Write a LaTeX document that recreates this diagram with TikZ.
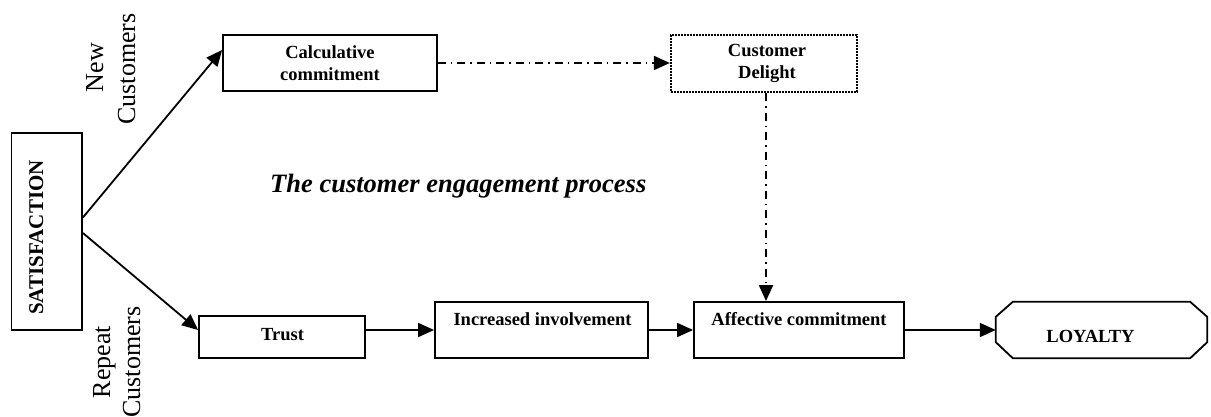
\documentclass[tikz,border=0pt]{standalone}
\usepackage{fontspec}
\setmainfont{Liberation Serif}
\usetikzlibrary{arrows.meta}
\begin{document}
\begin{tikzpicture}[x=1pt,y=-1pt,
  box/.style={draw,line width=1.8pt,rectangle,inner sep=0pt},
  lbl/.style={font=\fontsize{18.5}{22}\selectfont\bfseries,inner sep=0pt,align=center},
  side/.style={font=\fontsize{26}{30}\selectfont,inner sep=0pt,rotate=90,anchor=base},
  conn/.style={line width=1.8pt,-{Triangle[length=16pt,width=14pt]}},
  dd/.style={line width=1.8pt,dash pattern=on 8pt off 5pt on 1.5pt off 5pt,-{Triangle[length=16pt,width=14pt]}}]
\useasboundingbox (0,0) rectangle (1211,417);
% boxes
\node[box,minimum width=70.5pt,minimum height=197pt] (sat) at (46.75,231.5) {};
\node[box,minimum width=214pt,minimum height=56pt] (calc) at (330,63) {};
\node[draw,line width=2.2pt,dash pattern=on 1.6pt off 1.4pt,inner sep=0pt,minimum width=186pt,minimum height=57pt] (delight) at (764,63.5) {};
\node[box,minimum width=166pt,minimum height=42pt] (trust) at (282,337) {};
\node[box,minimum width=213pt,minimum height=56pt] (inc) at (541.5,330) {};
\node[box,minimum width=210pt,minimum height=56pt] (aff) at (799,330) {};
\node[inner sep=0pt,minimum width=211pt,minimum height=56pt] (loy) at (1101.5,330) {};
\draw[line width=1.8pt,line join=miter]
  ([xshift=17pt]loy.north west) -- ([xshift=-17pt]loy.north east)
  -- ([yshift=-15pt]loy.north east) -- ([yshift=16pt]loy.south east)
  -- ([xshift=-17pt]loy.south east) -- ([xshift=17pt]loy.south west)
  -- ([yshift=16pt]loy.south west) -- ([yshift=-15pt]loy.north west) -- cycle;
% texts
\node[font=\fontsize{21}{25}\selectfont\bfseries,inner sep=0pt,rotate=90,anchor=base] (tsat) at (43,237.5) {SATISFACTION};
\node[lbl] (tcalc) at (330,63) {Calculative\\commitment};
\node[lbl] (tdel) at (767,63.5) {Customer\\Delight};
\node[lbl,anchor=base] (ttrust) at (282.5,340) {Trust};
\node[lbl,anchor=base] (tinc) at (542.5,325) {Increased involvement};
\node[lbl,anchor=base] (taff) at (799,325) {Affective commitment};
\node[lbl,anchor=base] (tloy) at (1090.5,342) {LOYALTY};
\node[font=\fontsize{26.5}{30}\selectfont\bfseries\itshape,inner sep=0pt,anchor=base west] (title) at (270,193) {The customer engagement process};
\node[side] (new1) at (103,67.5) {New};
\node[side] (new2) at (135,69) {Customers};
\node[side] (rep1) at (110,362) {Repeat};
\node[side] (rep2) at (140,362) {Customers};
% connectors
\draw[conn] ([yshift=14pt]sat.east) -- ([yshift=13pt]calc.west);
\draw[conn] ([yshift=-1.5pt]sat.east) -- ([yshift=7pt]trust.west);
\draw[conn] (trust.east |- inc.west) -- (inc.west);
\draw[conn] (inc.east) -- (aff.west);
\draw[conn] (aff.east) -- (loy.west);
\draw[dd] (calc.east) -- (delight.west |- calc.east);
\draw[dd] ([xshift=2pt]delight.south) -- ([xshift=2pt]delight.south |- aff.north);
\end{tikzpicture}
\end{document}
